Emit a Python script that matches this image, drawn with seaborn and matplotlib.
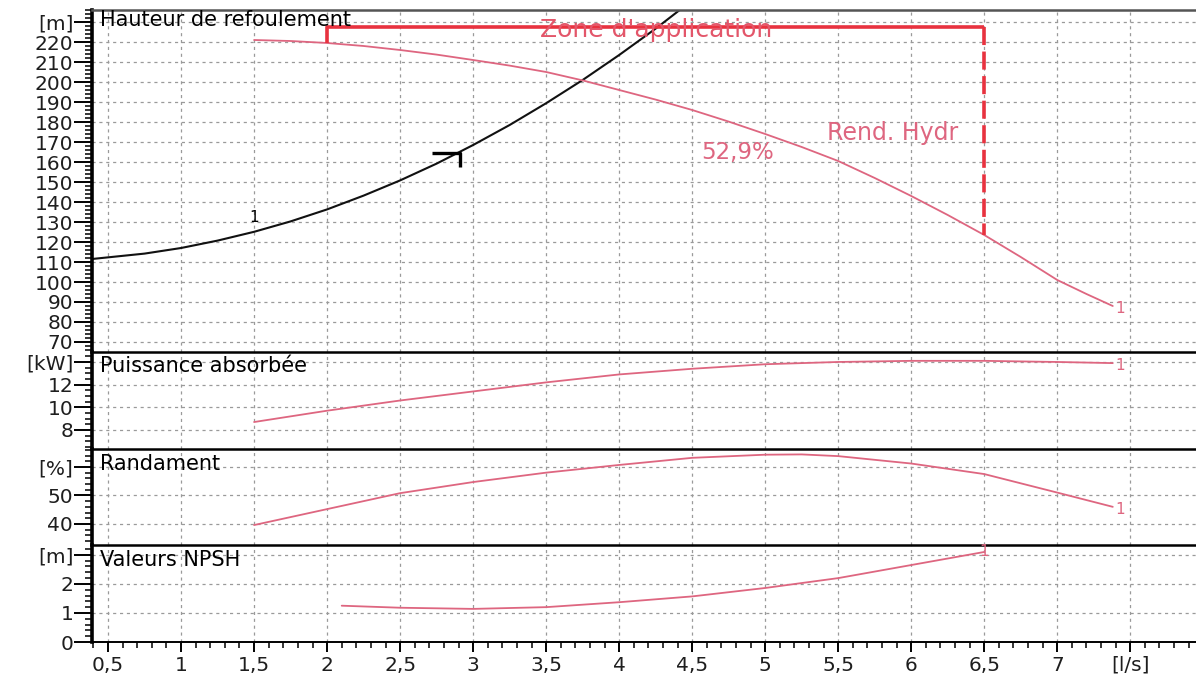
import matplotlib
matplotlib.use("Agg")
import matplotlib.pyplot as plt
import seaborn as sns
from matplotlib.path import Path
from matplotlib.ticker import FixedLocator, FixedFormatter, MultipleLocator

sns.set_style("ticks")
plt.rcParams['font.family'] = ['DejaVu Sans']

# ---- data ---------------------------------------------------------------
# flow axis (l/s)
flow_ticks = [0.5, 1, 1.5, 2, 2.5, 3, 3.5, 4, 4.5, 5, 5.5, 6, 6.5, 7, 7.5]
flow_labels = ["0,5", "1", "1,5", "2", "2,5", "3", "3,5", "4", "4,5",
               "5", "5,5", "6", "6,5", "7", "[l/s]"]

# system curve (m)
system_q = [0.39, 0.75, 1.0, 1.25, 1.5, 1.75, 2.0, 2.25, 2.5, 2.75, 3.0,
            3.25, 3.5, 3.75, 4.0, 4.25, 4.45]
system_h = [111.5, 114.2, 117, 120.7, 125.1, 130.3, 136.3, 143.2, 150.8, 159.2,
            168.5, 178.5, 189.4, 201, 213.5, 226.7, 238]

# pump head (m)
pump_q = [1.5, 1.75, 2.0, 2.25, 2.5, 2.75, 3.0, 3.25, 3.5, 3.75, 4.0, 4.25, 4.5,
          4.75, 5.0, 5.25, 5.5, 5.75, 6.0, 6.25, 6.5, 6.75, 7.0, 7.2, 7.38]
pump_h = [221, 220.5, 219.5, 218, 216, 213.7, 211, 208.2, 205, 200.8, 196, 191.2,
          186, 180.2, 174, 167.5, 160.5, 152, 143, 133.5, 123.5, 112.5, 101, 94, 88]

# absorbed power (kW)
power_q = [1.5, 2.0, 2.5, 3.0, 3.5, 4.0, 4.5, 5.0, 5.5, 6.0, 6.5, 7.0, 7.38]
power_kw = [8.7, 9.7, 10.6, 11.4, 12.2, 12.9, 13.4, 13.8, 14.0, 14.1, 14.1, 14.0, 13.9]

# efficiency (%)
eff_q = [1.5, 2.0, 2.5, 3.0, 3.5, 4.0, 4.5, 5.0, 5.25, 5.5, 6.0, 6.5, 7.0, 7.38]
eff_pct = [39.6, 45.2, 50.8, 54.7, 58.0, 60.7, 63.2, 64.3, 64.4, 63.8, 61.2, 57.5, 51.0, 46.0]

# NPSH (m)
npsh_q = [2.1, 2.5, 3.0, 3.5, 4.0, 4.5, 5.0, 5.5, 6.0, 6.5]
npsh_m = [1.25, 1.18, 1.14, 1.2, 1.37, 1.57, 1.86, 2.2, 2.65, 3.1]

# application zone and duty point
zone_q = [2.0, 6.5]
zone_h = 227.5
duty_q, duty_h = 2.91, 164.5

# panel axes: ticks / labels
head_ticks = [70, 80, 90, 100, 110, 120, 130, 140, 150, 160, 170, 180, 190, 200, 210, 220, 230]
head_labels = [str(v) for v in head_ticks[:-1]] + ["[m]"]
power_ticks = [8, 10, 12, 14]
power_labels = ["8", "10", "12", "[kW]"]
eff_ticks = [40, 50, 60]
eff_labels = ["40", "50", "[%]"]
npsh_ticks = [0, 1, 2, 3]
npsh_labels = ["0", "1", "2", "[m]"]

titles = ["Hauteur de refoulement", "Puissance absorbée", "Randament", "Valeurs NPSH"]

# ---- styling ------------------------------------------------------------
W_PX, H_PX = 1196, 677
PINK = "#de6680"
RED = "#e8323f"
GRID = "#9a9a9a"
TXT = "#1e1e1e"

fig = plt.figure(figsize=(W_PX / 100, H_PX / 100), dpi=100)
fig.patch.set_facecolor("white")

left_px = 92
# (top px, bottom px, ylim, ticks, labels, minor step, title y)
panels = [
    (10, 352, (65, 236), head_ticks, head_labels, 2, 0.972),
    (352, 449, (6.32, 14.88), power_ticks, power_labels, 0.5, 0.86),
    (449, 545, (32.6, 66.3), eff_ticks, eff_labels, 2, 0.845),
    (545, 642, (0, 3.34), npsh_ticks, npsh_labels, 0.2, 0.845),
]

axes = []
for i, (top, bot, ylim, ticks, labels, minor, ty) in enumerate(panels):
    ax = fig.add_axes([left_px / W_PX, 1 - bot / H_PX,
                       (W_PX - left_px) / W_PX, (bot - top) / H_PX])
    ax.set_xlim(0.39, 7.95)
    ax.set_ylim(*ylim)
    ax.set_facecolor("white")

    ax.yaxis.set_major_locator(FixedLocator(ticks))
    ax.yaxis.set_major_formatter(FixedFormatter(labels))
    ax.yaxis.set_minor_locator(MultipleLocator(minor))
    ax.xaxis.set_major_locator(FixedLocator(flow_ticks))

    ax.grid(True, which="major", color=GRID, linestyle=(0, (2.5, 3)), linewidth=0.9)
    ax.set_axisbelow(True)

    ax.tick_params(axis="y", which="both", left=True, right=False)
    ax.tick_params(axis="y", which="major", direction="out", length=13, width=1.4,
                   pad=0.5, labelsize=14.5, labelcolor=TXT, color="black")
    ax.tick_params(axis="y", which="minor", direction="out", length=5, width=1.1,
                   color="black")

    ax.spines["right"].set_visible(False)
    ax.spines["left"].set_linewidth(2.6)
    ax.spines["left"].set_color("black")
    ax.spines["top"].set_visible(True)
    ax.spines["top"].set_linewidth(1.8)
    ax.spines["top"].set_color("#555555" if i == 0 else "black")

    if i < 3:
        ax.spines["bottom"].set_visible(False)
        ax.tick_params(axis="x", which="both", length=0, labelbottom=False)
    else:
        ax.spines["bottom"].set_linewidth(1.4)
        ax.spines["bottom"].set_color("black")
        ax.xaxis.set_major_formatter(FixedFormatter(flow_labels))
        ax.xaxis.set_minor_locator(MultipleLocator(0.1))
        ax.tick_params(axis="x", which="both", bottom=True, top=False)
        ax.tick_params(axis="x", which="major", direction="out", length=7, width=1.4,
                       pad=3, labelsize=14.5, labelcolor=TXT, color="black")
        ax.tick_params(axis="x", which="minor", direction="out", length=4, width=1.1,
                       color="black")

    ax.text(0.007, ty, titles[i], transform=ax.transAxes, ha="left", va="center",
            fontsize=15, color="black")
    axes.append(ax)

ax_h, ax_p, ax_e, ax_n = axes

# ---- head panel ---------------------------------------------------------
sns.lineplot(x=system_q, y=system_h, ax=ax_h, color="#111111", linewidth=1.5,
             sort=False, estimator=None)
sns.lineplot(x=pump_q, y=pump_h, ax=ax_h, color=PINK, linewidth=1.3,
             sort=False, estimator=None)

# application zone
h_left = pump_h[pump_q.index(zone_q[0])]
h_right = pump_h[pump_q.index(zone_q[1])]
ax_h.plot([zone_q[0], zone_q[0], zone_q[1]], [h_left, zone_h, zone_h],
          color=RED, linewidth=2.6, solid_capstyle="butt")
ax_h.plot([zone_q[1], zone_q[1]], [zone_h, h_right], color=RED, linewidth=2.6,
          linestyle=(0, (5, 1.8)))
ax_h.text(sum(zone_q) / 2, zone_h - 1.5, "Zone d'application", ha="center",
          va="center", fontsize=18, color="#e3566a")

# duty point marker
duty_marker = Path([(-1, 0), (0, 0), (0, -0.5)],
                   [Path.MOVETO, Path.LINETO, Path.LINETO])
ax_h.plot([duty_q], [duty_h], marker=duty_marker, markersize=40,
          markeredgewidth=2.4, markeredgecolor="black", markerfacecolor="none",
          linestyle="none")

ax_h.text(4.81, 165, "52,9%", ha="center", va="center", fontsize=16.5, color=PINK)
ax_h.text(5.87, 174.5, "Rend. Hydr", ha="center", va="center", fontsize=17, color=PINK)

# curve number tags
ax_h.annotate("1", (1.5, 125.1), xytext=(0, 5), textcoords="offset points",
              ha="center", va="bottom", fontsize=11, color="black")
ax_h.annotate("1", (pump_q[-1], pump_h[-1]), xytext=(2, -2), textcoords="offset points",
              ha="left", va="center", fontsize=11, color=PINK)

# ---- power, efficiency, NPSH -------------------------------------------
sns.lineplot(x=power_q, y=power_kw, ax=ax_p, color=PINK, linewidth=1.3,
             sort=False, estimator=None)
ax_p.annotate("1", (power_q[-1], power_kw[-1]), xytext=(2, -2), textcoords="offset points",
              ha="left", va="center", fontsize=11, color=PINK)

sns.lineplot(x=eff_q, y=eff_pct, ax=ax_e, color=PINK, linewidth=1.3,
             sort=False, estimator=None)
ax_e.annotate("1", (eff_q[-1], eff_pct[-1]), xytext=(2, -2), textcoords="offset points",
              ha="left", va="center", fontsize=11, color=PINK)

sns.lineplot(x=npsh_q, y=npsh_m, ax=ax_n, color=PINK, linewidth=1.3,
             sort=False, estimator=None)
ax_n.annotate("1", (npsh_q[-1], npsh_m[-1]), xytext=(0, 0), textcoords="offset points",
              ha="center", va="center", fontsize=11, color=PINK)

for ax in axes:
    ax.set_xlabel("")
    ax.set_ylabel("")

fig.savefig("out.png", dpi=100, facecolor="white")
